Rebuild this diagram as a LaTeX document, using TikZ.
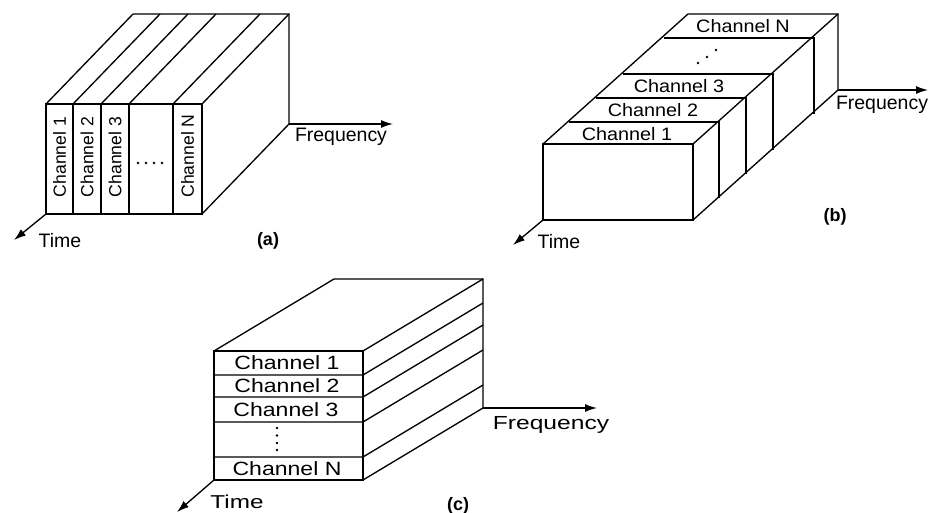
\documentclass[tikz,border=0pt]{standalone}
\usepackage{fontspec}
\setmainfont{Liberation Sans}
\newfontfamily\bfont[FakeStretch=1.1]{Liberation Sans}
\newfontfamily\cfont[FakeStretch=1.2]{Liberation Sans}
\newfontfamily\cwidefont[FakeStretch=1.3]{Liberation Sans}
\usetikzlibrary{arrows.meta}

\tikzset{
    chan/.style={font=\fontsize{13.5}{15}\selectfont, inner sep=0pt},
    axis/.style={-{Latex[length=9pt,width=6pt]}},
    axlabel/.style={font=\fontsize{14.6}{16}\selectfont, inner sep=0pt},
    tag/.style={font=\bfseries\fontsize{13.5}{15}\selectfont, inner sep=0pt},
    dot/.style={fill, radius=1.4}
}

\begin{document}
\begin{tikzpicture}[x=0.75pt, y=-0.75pt, line width=1pt]
    \useasboundingbox (0,0) rectangle (930,513);

    % (a) channels side by side in frequency
    \draw (46,104) rectangle (202,214);
    \foreach \x in {73,101,129,173}
        \draw (\x,104) -- (\x,214);
    \foreach \x in {46,73,101,129,173,202}
        \draw (\x,104) -- ++(87,-90);
    \draw (133,14) -- (289,14) -- (289,124) -- (202,214);
    \coordinate (a-f0) at (289,124);
    \coordinate (a-f1) at (393,124);
    \coordinate (a-t0) at (46,214);
    \coordinate (a-t1) at (14,240);
    \draw[axis] (a-f0) -- (a-f1);
    \draw[axis] (a-t0) -- (a-t1);
    \node[chan, rotate=90, font=\fontsize{13.2}{14}\selectfont] (a-c1) at (59.5,157) {Channel 1};
    \node[chan, rotate=90, font=\fontsize{13.2}{14}\selectfont] (a-c2) at (87,157) {Channel 2};
    \node[chan, rotate=90, font=\fontsize{13.2}{14}\selectfont] (a-c3) at (115,157) {Channel 3};
    \foreach \x in {138,146,154,162}
        \fill[dot] (\x,163) circle;
    \node[chan, rotate=90, font=\fontsize{13.2}{14}\selectfont] (a-cn) at (187.5,156) {Channel N};
    \node[axlabel] (a-freq) at (341,137) {Frequency};
    \node[axlabel] (a-time) at (60,241) {Time};
    \node[tag] (a-tag) at (268,241) {(a)};

    % (b) channels one after another in time
    \draw (543,144) rectangle (693,220);
    \foreach \dx/\dy in {26/-22, 53/-46, 80/-70, 121/-106}
        \draw (543+\dx,144+\dy) -- (693+\dx,144+\dy) -- (693+\dx,220+\dy);
    \draw (543,144) -- (688,14) -- (838,14) -- (838,90) -- (693,220);
    \draw (693,144) -- (838,14);
    \coordinate (b-f0) at (838,90);
    \coordinate (b-f1) at (928,90);
    \coordinate (b-t0) at (543,220);
    \coordinate (b-t1) at (513,245);
    \draw[axis] (b-f0) -- (b-f1);
    \draw[axis] (b-t0) -- (b-t1);
    \node[chan, font=\bfont\fontsize{13.5}{15}\selectfont] (b-c1) at (627,134) {Channel 1};
    \node[chan, font=\bfont\fontsize{13.5}{15}\selectfont] (b-c2) at (653,110) {Channel 2};
    \node[chan, font=\bfont\fontsize{13.5}{15}\selectfont] (b-c3) at (679,86) {Channel 3};
    \foreach \x/\y in {698/63, 707/57, 716/50}
        \fill[dot] (\x,\y) circle;
    \node[chan, font=\bfont\fontsize{13.5}{15}\selectfont] (b-cn) at (743,26) {Channel N};
    \node[axlabel] (b-freq) at (882,105) {Frequency};
    \node[axlabel] (b-time) at (559,242) {Time};
    \node[tag] (b-tag) at (835,217) {(b)};

    % (c) channels as codes over the whole band
    \draw (214,351) rectangle (363,480);
    \foreach \y in {375,397,422,457}
        \draw (214,\y) -- (363,\y) -- ++(120,-72);
    \draw (214,351) -- ++(120,-72) -- (483,279) -- (483,408) -- (363,480);
    \draw (363,351) -- (483,279);
    \coordinate (c-f0) at (483,408);
    \coordinate (c-f1) at (597,408);
    \coordinate (c-t0) at (214,480);
    \coordinate (c-t1) at (177,512);
    \draw[axis] (c-f0) -- (c-f1);
    \draw[axis] (c-t0) -- (c-t1);
    \node[chan, font=\cfont\fontsize{14.4}{16}\selectfont] (c-c1) at (287,363) {Channel 1};
    \node[chan, font=\cfont\fontsize{14.4}{16}\selectfont] (c-c2) at (287,386) {Channel 2};
    \node[chan, font=\cfont\fontsize{14.4}{16}\selectfont] (c-c3) at (286,409.5) {Channel 3};
    \foreach \y in {428,435.5,443,450}
        \fill[dot] (277,\y) circle;
    \node[chan, font=\cfont\fontsize{14.4}{16}\selectfont] (c-cn) at (287,468.5) {Channel N};
    \node[axlabel, font=\cwidefont\fontsize{14.2}{16}\selectfont] (c-freq) at (551,425) {Frequency};
    \node[axlabel, font=\cwidefont\fontsize{14}{16}\selectfont, anchor=base, text depth=0pt] (c-time) at (237,508) {Time};
    \node[tag] (c-tag) at (458,506) {(c)};
\end{tikzpicture}
\end{document}
